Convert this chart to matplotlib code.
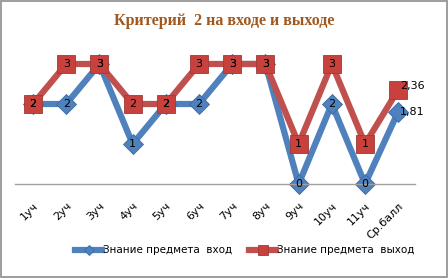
import matplotlib
matplotlib.use('Agg')

from matplotlib import pyplot as plt
from matplotlib.patches import Rectangle

categories = ['1уч', '2уч', '3уч', '4уч', '5уч', '6уч', '7уч', '8уч', '9уч', '10уч', '11уч', 'Ср.балл']
vhod = [2, 2, 3, 1, 2, 2, 3, 3, 0, 2, 0, 1.81]
vyhod = [2, 3, 3, 2, 2, 3, 3, 3, 1, 3, 1, 2.36]
series_names = ['Знание предмета  вход', 'Знание предмета  выход']

blue = '#4F81BD'
red = '#C0504D'


def fmt(v):
    if float(v).is_integer():
        return '%d' % v
    return ('%.2f' % v).replace('.', ',')


fig = plt.figure(figsize=(4.48, 2.78), dpi=100)
fig.patches.append(Rectangle((0.002, 0.004), 0.995, 0.992, transform=fig.transFigure,
                             fill=False, edgecolor='#8c8c8c', linewidth=1.2))
ax = fig.add_axes([0.033, 0.338, 0.893, 0.475])

x = list(range(len(categories)))
ax.plot(x, vhod, color=blue, lw=4.5, marker='D', ms=10, mfc=blue, mec='#3a6aa5',
        mew=0.6, label=series_names[0], zorder=2, solid_joinstyle='miter')
ax.plot(x, vyhod, color=red, lw=4.5, marker='s', ms=13.5, mfc='#C8413D', mec='#a03a37',
        mew=0.6, label=series_names[1], zorder=3, solid_joinstyle='miter')

for i, v in enumerate(vhod):
    if i == len(vhod) - 1:
        ax.text(i + 0.05, v, fmt(v), ha='left', va='center', fontsize=8, zorder=5)
    else:
        ax.text(i, v, fmt(v), ha='center', va='center', fontsize=8, zorder=5)
for i, v in enumerate(vyhod):
    if i == len(vyhod) - 1:
        ax.text(i + 0.05, v + 0.08, fmt(v), ha='left', va='center', fontsize=8, zorder=5)
    else:
        ax.text(i, v, fmt(v), ha='center', va='center', fontsize=8, zorder=5)

ax.set_xlim(-0.55, 11.5)
ax.set_ylim(0, 3.3)
ax.set_yticks([])
ax.set_xticks(x)
ax.set_xticklabels(categories, rotation=45, ha='right', rotation_mode='anchor', fontsize=8)
ax.tick_params(axis='x', length=0, pad=12)
for s in ['top', 'right', 'left']:
    ax.spines[s].set_visible(False)
ax.spines['bottom'].set_color('#a0a0a0')
ax.spines['bottom'].set_linewidth(1)
for line in ax.lines:
    line.set_clip_on(False)

fig.text(0.5, 0.925, 'Критерий  2 на входе и выходе', ha='center', va='center',
         fontsize=11.5, fontweight='bold', family='Liberation Serif', color='#A0581E')

fig.legend(loc='center', bbox_to_anchor=(0.547, 0.1), ncol=2, frameon=False,
           fontsize=7.5, handlelength=2.6, handletextpad=0.1, columnspacing=1.6,
           markerscale=0.55)

plt.savefig('out.png', dpi=100)
plt.close()
